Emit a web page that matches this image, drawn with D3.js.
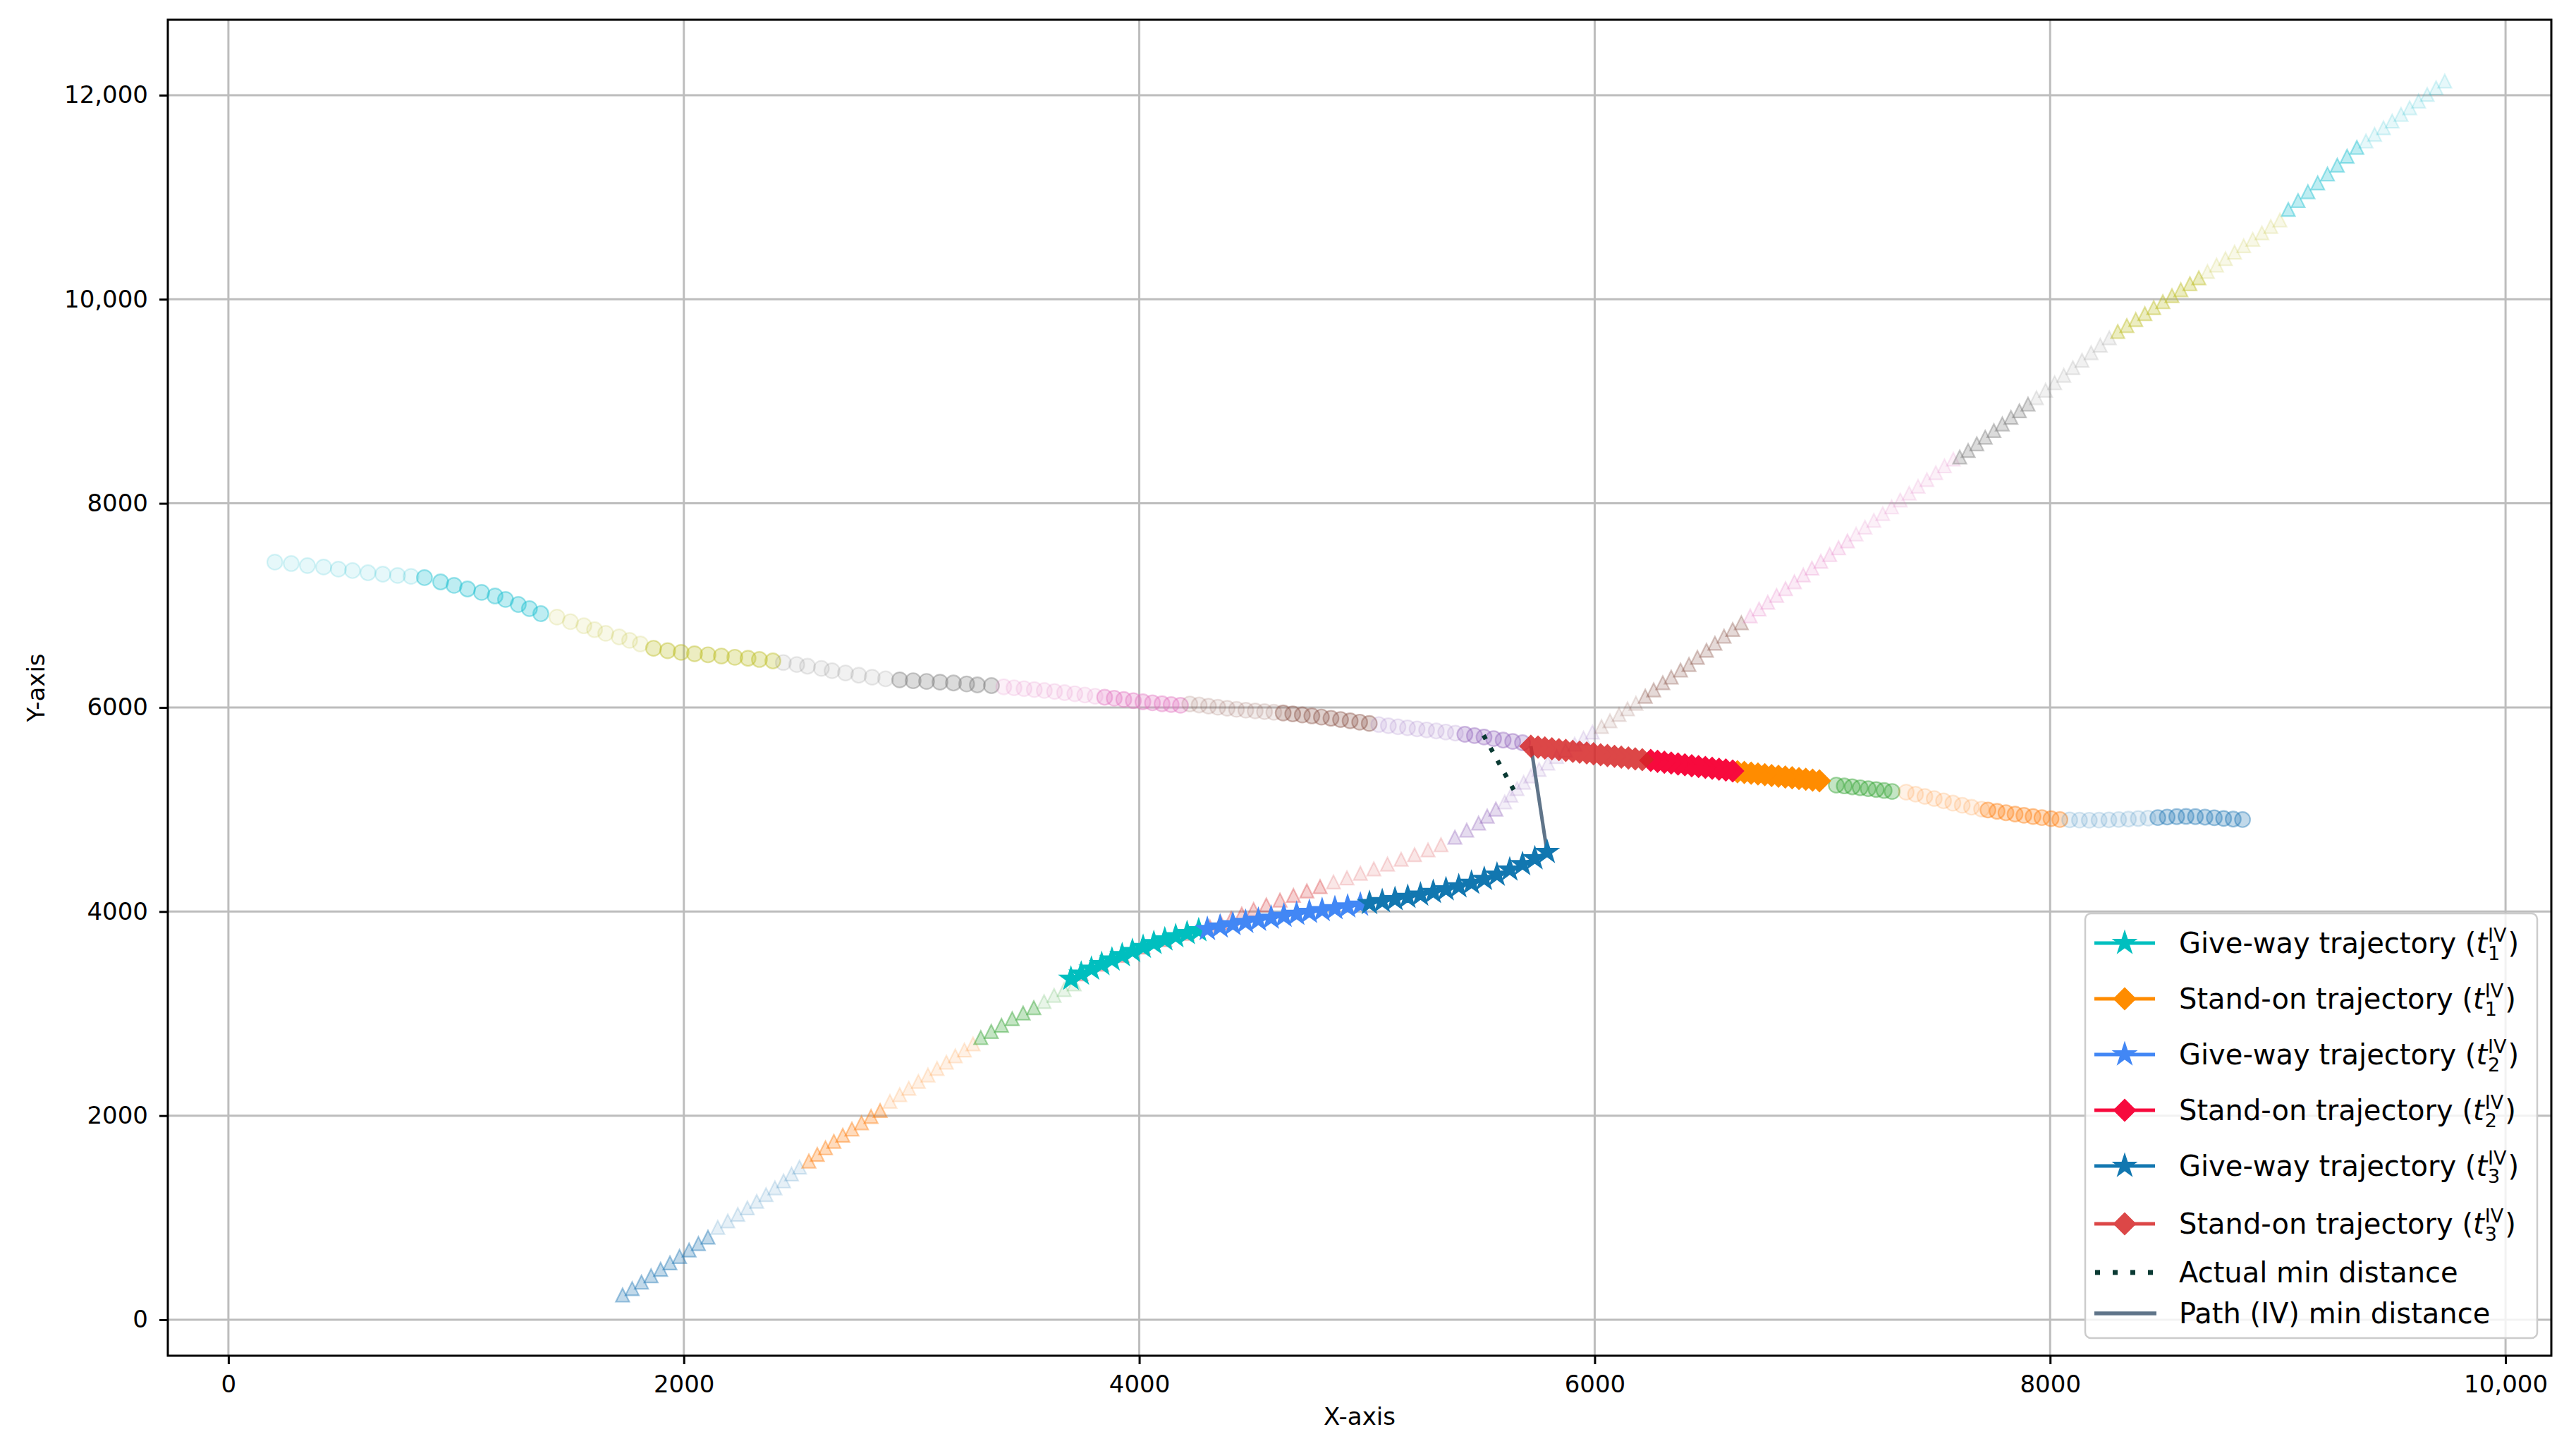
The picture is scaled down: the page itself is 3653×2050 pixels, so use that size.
<!DOCTYPE html>
<html>
<head>
<meta charset="utf-8">
<script src="https://cdn.jsdelivr.net/npm/d3@7"></script>
<style>
  html, body { margin: 0; padding: 0; background: #ffffff; }
  text { font-family: "DejaVu Sans", "Liberation Sans", sans-serif; }
</style>
</head>
<body>
<svg id="chart" width="3653" height="2050"></svg>
<script>
// ---------------- DATA ----------------
const xTickValues = [0, 2000, 4000, 6000, 8000, 10000];
const xTickLabels = ["0", "2000", "4000", "6000", "8000", "10,000"];
const yTickValues = [0, 2000, 4000, 6000, 8000, 10000, 12000];
const yTickLabels = ["0", "2000", "4000", "6000", "8000", "10,000", "12,000"];
const xAxisTitle = "X-axis";
const yAxisTitle = "Y-axis";

// Stand-on ship full path (circles), tab10 colour segments
const soCyanLight = [[204,7424],[276,7410],[347,7390],[418,7376],[483,7355],[545,7341],[613,7320],[678,7306],[743,7293],[802,7284]];
const soCyanDark = [[861,7272],[932,7230],[991,7196],[1050,7161],[1112,7127],[1171,7092],[1217,7058],[1273,7009],[1322,6968],[1372,6919]];
const soOliveLight = [[1443,6885],[1502,6840],[1561,6800],[1608,6762],[1657,6726],[1716,6691],[1762,6657],[1809,6622]];
const soOliveDark = [[1867,6580],[1929,6556],[1988,6540],[2047,6526],[2106,6516],[2165,6504],[2224,6492],[2282,6482],[2332,6470],[2391,6456]];
const soGrayLight = [[2437,6440],[2496,6420],[2543,6404],[2604,6383],[2651,6360],[2710,6338],[2768,6316],[2827,6296],[2886,6280]];
const soGrayDark = [[2948,6270],[3007,6262],[3066,6255],[3125,6248],[3184,6240],[3242,6230],[3289,6221],[3351,6214]];
const soPinkLight = [[3405,6202],[3450,6193],[3494,6184],[3539,6175],[3583,6166],[3628,6156],[3672,6145],[3717,6134],[3761,6122],[3806,6110]];
const soPinkDark = [[3848,6100],[3890,6090],[3932,6078],[3974,6066],[4016,6055],[4058,6045],[4100,6036],[4140,6028],[4181,6021]];
const soBrownLight = [[4222,6034],[4263,6024],[4304,6013],[4345,6002],[4386,5992],[4427,5982],[4468,5973],[4509,5966],[4550,5959],[4591,5953]];
const soBrownDark = [[4632,5946],[4674,5937],[4716,5927],[4758,5917],[4800,5906],[4842,5894],[4884,5882],[4926,5869],[4968,5856],[5010,5843]];
const soPurpleLight = [[5052,5832],[5094,5821],[5136,5810],[5178,5800],[5220,5790],[5262,5780],[5304,5770],[5346,5759],[5388,5748]];
const soPurpleDark = [[5430,5737],[5472,5724],[5514,5710],[5556,5695],[5598,5680],[5640,5667],[5683,5654]];
const soGreen = [[7061,5239],[7096,5231],[7131,5222],[7166,5213],[7201,5204],[7236,5195],[7271,5186],[7306,5177]];
const soOrangeLight = [[7368,5170],[7409,5150],[7450,5128],[7491,5107],[7532,5085],[7573,5063],[7614,5042],[7655,5022],[7699,5004]];
const soOrangeDark = [[7727,4995],[7767,4982],[7806,4968],[7846,4955],[7885,4943],[7925,4931],[7964,4920],[8004,4910],[8043,4901]];
const soBlueLight = [[8086,4898],[8129,4896],[8172,4895],[8215,4896],[8258,4898],[8301,4902],[8344,4906],[8387,4911],[8430,4915]];
const soBlueDark = [[8473,4920],[8514,4926],[8556,4930],[8597,4932],[8638,4930],[8680,4925],[8721,4919],[8762,4912],[8804,4906],[8845,4901]];

// Give-way ship full path (triangles), tab10 colour segments
const gwBlueDark = [[1731,242],[1773,305],[1814,368],[1856,431],[1898,494],[1939,557],[1981,620],[2023,683],[2064,746],[2106,809]];
const gwBlueLight = [[2149,905],[2193,968],[2237,1032],[2279,1096],[2320,1160],[2361,1226],[2400,1292],[2438,1360],[2473,1428],[2508,1495]];
const gwOrangeDark = [[2549,1555],[2586,1620],[2622,1685],[2659,1748],[2698,1808],[2738,1868],[2780,1930],[2822,1992],[2862,2050]];
const gwOrangeLight = [[2905,2140],[2948,2205],[2988,2268],[3030,2335],[3072,2398],[3112,2462],[3153,2523],[3192,2585],[3232,2643],[3270,2703]];
const gwGreenDark = [[3304,2765],[3350,2825],[3395,2885],[3442,2950],[3490,3005],[3537,3058]];
const gwGreenLight = [[3582,3118],[3626,3178],[3670,3235],[3714,3290]];
const gwRedDark = [[3745,3390],[3835,3484],[3925,3571],[4017,3652],[4112,3725],[4210,3787],[4310,3850],[4358,3890],[4404,3932],[4450,3975],[4502,4020],[4558,4065],[4618,4112],[4677,4158],[4736,4202],[4794,4244]];
const gwRedLight = [[4853,4290],[4912,4330],[4971,4375],[5030,4418],[5090,4465],[5150,4512],[5209,4557],[5268,4604],[5325,4655]];
const gwPurpleDark = [[5386,4728],[5438,4797],[5490,4866],[5528,4935],[5566,5004]];
const gwPurpleLight = [[5605,5074],[5632,5140],[5659,5204],[5688,5266],[5720,5329],[5756,5392],[5794,5455],[5833,5518],[5872,5580],[5912,5640],[5951,5700],[5990,5758]];
const gwBrownLight = [[6030,5813],[6067,5869],[6107,5931],[6144,5986],[6181,6041]];
const gwBrownDark = [[6222,6110],[6259,6172],[6299,6242],[6336,6297],[6377,6366],[6414,6421],[6451,6491],[6491,6560],[6528,6629],[6568,6698],[6606,6764],[6644,6830]];
const gwPinkDark = [[6683,6897],[6722,6964],[6760,7031],[6799,7098],[6838,7164],[6877,7231],[6916,7298],[6954,7365],[6993,7432],[7032,7498],[7071,7565],[7110,7632]];
const gwPinkLight = [[7148,7699],[7187,7766],[7226,7833],[7265,7899],[7304,7966],[7342,8033],[7381,8100],[7420,8167],[7459,8233],[7498,8300],[7536,8367],[7575,8433]];
const gwGrayDark = [[7603,8454],[7640,8518],[7678,8583],[7715,8648],[7753,8713],[7790,8778],[7828,8843],[7865,8907],[7903,8972]];
const gwGrayLight = [[7940,9035],[7980,9108],[8020,9182],[8060,9255],[8100,9330],[8140,9402],[8180,9476],[8220,9549],[8260,9622]];
const gwOliveDark = [[8297,9684],[8337,9742],[8376,9801],[8416,9859],[8455,9918],[8495,9976],[8535,10035],[8574,10093],[8614,10152],[8653,10210]];
const gwOliveLight = [[8691,10272],[8731,10335],[8770,10398],[8810,10461],[8850,10524],[8890,10587],[8930,10650],[8969,10713],[9009,10776]];
const gwCyanDark = [[9046,10880],[9089,10967],[9132,11054],[9175,11140],[9218,11227],[9261,11314],[9304,11401],[9347,11488]];
const gwCyanLight = [[9387,11550],[9425,11615],[9464,11680],[9502,11746],[9541,11811],[9579,11876],[9618,11942],[9656,12007],[9695,12072],[9733,12138]];

// Give-way planned trajectories (stars)
const giveWayT1 = [[3700,3340],[3745,3390],[3790,3438],[3835,3484],[3880,3528],[3925,3571],[3970,3612],[4017,3652],[4064,3690],[4112,3725],[4160,3757],[4210,3787],[4261,3815]];
const giveWayT2 = [[4299,3828],[4355,3852],[4411,3875],[4467,3897],[4523,3918],[4579,3938],[4635,3957],[4691,3976],[4747,3995],[4803,4013],[4859,4031],[4915,4048],[4971,4066]];
const giveWayT3 = [[5011,4082],[5067,4100],[5123,4120],[5179,4142],[5235,4165],[5291,4190],[5347,4217],[5403,4246],[5459,4280],[5515,4318],[5571,4360],[5627,4410],[5683,4463],[5737,4520],[5791,4583]];

// Stand-on trajectories (diamonds)
const standOnT1 = [[6987,5281],[6957,5288],[6927,5296],[6897,5303],[6867,5311],[6837,5318],[6807,5326],[6777,5333],[6747,5341],[6717,5348],[6687,5356],[6657,5363],[6627,5370]];
const standOnT2 = [[6606,5378],[6576,5387],[6546,5395],[6516,5404],[6486,5412],[6456,5421],[6426,5429],[6396,5438],[6366,5446],[6336,5455],[6306,5463],[6276,5472],[6246,5481]];
const standOnT3 = [[6209,5488],[6178,5496],[6148,5505],[6117,5513],[6087,5521],[6056,5529],[6026,5537],[5995,5546],[5965,5554],[5934,5562],[5904,5570],[5873,5579],[5843,5587],[5812,5595],[5781,5603],[5751,5612],[5720,5620]];

// Minimum distance segments
const actualMinDistance = [[5512,5728],[5655,5150]];
const pathMinDistance = [[5720,5620],[5791,4583]];

// Legend labels
const legendLabels = [
  {text: "Give-way trajectory (", sub: "1", sup: "IV", tail: ")"},
  {text: "Stand-on trajectory (", sub: "1", sup: "IV", tail: ")"},
  {text: "Give-way trajectory (", sub: "2", sup: "IV", tail: ")"},
  {text: "Stand-on trajectory (", sub: "2", sup: "IV", tail: ")"},
  {text: "Give-way trajectory (", sub: "3", sup: "IV", tail: ")"},
  {text: "Stand-on trajectory (", sub: "3", sup: "IV", tail: ")"},
  {text: "Actual min distance"},
  {text: "Path (IV) min distance"}
];

// ---------------- DRAWING ----------------
const svg = d3.select("#chart");
const P = {l: 238, r: 3618, t: 28, b: 1922};
const x = d3.scaleLinear().domain([-266, 10201]).range([P.l, P.r]);
const y = d3.scaleLinear().domain([-352.5, 12739]).range([P.b, P.t]);

svg.append("rect").attr("width", 3653).attr("height", 2050).attr("fill", "#ffffff");

svg.append("defs").append("clipPath").attr("id", "plotclip")
  .append("rect").attr("x", P.l).attr("y", P.t).attr("width", P.r - P.l).attr("height", P.b - P.t);

// Custom marker shapes (size = radius in px)
const markStar = { draw(ctx, r) {
  const ri = r * 0.381966;
  for (let i = 0; i < 10; i++) {
    const rr = i % 2 === 0 ? r : ri;
    const a = -Math.PI / 2 + i * Math.PI / 5;
    const px = rr * Math.cos(a), py = rr * Math.sin(a);
    if (i === 0) ctx.moveTo(px, py); else ctx.lineTo(px, py);
  }
  ctx.closePath();
}};
const markDiamond = { draw(ctx, r) {
  ctx.moveTo(0, -r); ctx.lineTo(r, 0); ctx.lineTo(0, r); ctx.lineTo(-r, 0); ctx.closePath();
}};
const markTriangle = { draw(ctx, r) {
  ctx.moveTo(0, -r); ctx.lineTo(-r, r); ctx.lineTo(r, r); ctx.closePath();
}};
const markCircle = { draw(ctx, r) {
  ctx.moveTo(r, 0); ctx.arc(0, 0, r, 0, 2 * Math.PI); ctx.closePath();
}};

// Grid
const grid = svg.append("g");
grid.selectAll("line.gx").data(xTickValues).join("line")
  .attr("x1", d => x(d)).attr("x2", d => x(d)).attr("y1", P.t).attr("y2", P.b)
  .attr("stroke", "#bdbdbd").attr("stroke-width", 3);
grid.selectAll("line.gy").data(yTickValues).join("line")
  .attr("y1", d => y(d)).attr("y2", d => y(d)).attr("x1", P.l).attr("x2", P.r)
  .attr("stroke", "#bdbdbd").attr("stroke-width", 3);

const plotG = svg.append("g").attr("clip-path", "url(#plotclip)");

const LIGHT = 0.11, DARK = 0.28;
const tab = {blue:"#1f77b4", orange:"#ff7f0e", green:"#2ca02c", red:"#d62728", purple:"#9467bd",
             brown:"#8c564b", pink:"#e377c2", gray:"#7f7f7f", olive:"#bcbd22", cyan:"#17becf"};

function bgMarkers(pts, color, alpha, shape, r) {
  const sym = d3.symbol().type(shape).size(r);
  plotG.append("g").selectAll("path").data(pts).join("path")
    .attr("d", sym)
    .attr("transform", d => `translate(${x(d[0])},${y(d[1])})`)
    .attr("fill", color).attr("fill-opacity", alpha)
    .attr("stroke", color).attr("stroke-opacity", Math.min(1, alpha * 1.5)).attr("stroke-width", 2.2);
}

// stand-on background (circles)
[
  [soCyanLight, tab.cyan, LIGHT], [soCyanDark, tab.cyan, DARK],
  [soOliveLight, tab.olive, LIGHT], [soOliveDark, tab.olive, DARK],
  [soGrayLight, tab.gray, LIGHT], [soGrayDark, tab.gray, DARK],
  [soPinkLight, tab.pink, LIGHT], [soPinkDark, tab.pink, DARK],
  [soBrownLight, tab.brown, LIGHT], [soBrownDark, tab.brown, DARK],
  [soPurpleLight, tab.purple, LIGHT], [soPurpleDark, tab.purple, DARK],
  [soGreen, tab.green, DARK],
  [soOrangeLight, tab.orange, LIGHT], [soOrangeDark, tab.orange, DARK],
  [soBlueLight, tab.blue, LIGHT], [soBlueDark, tab.blue, DARK]
].forEach(s => bgMarkers(s[0], s[1], s[2], markCircle, 10.8));

// give-way background (triangles)
[
  [gwBlueDark, tab.blue, DARK], [gwBlueLight, tab.blue, LIGHT],
  [gwOrangeDark, tab.orange, DARK], [gwOrangeLight, tab.orange, LIGHT],
  [gwGreenDark, tab.green, DARK], [gwGreenLight, tab.green, LIGHT],
  [gwRedDark, tab.red, DARK * 0.75], [gwRedLight, tab.red, LIGHT],
  [gwPurpleDark, tab.purple, DARK * 0.85], [gwPurpleLight, tab.purple, LIGHT],
  [gwBrownLight, tab.brown, LIGHT], [gwBrownDark, tab.brown, DARK * 0.8],
  [gwPinkDark, tab.pink, LIGHT * 1.4], [gwPinkLight, tab.pink, LIGHT],
  [gwGrayDark, tab.gray, DARK], [gwGrayLight, tab.gray, LIGHT],
  [gwOliveDark, tab.olive, DARK], [gwOliveLight, tab.olive, LIGHT],
  [gwCyanDark, tab.cyan, DARK], [gwCyanLight, tab.cyan, LIGHT]
].forEach(s => bgMarkers(s[0], s[1], s[2], markTriangle, 9.5));

// min-distance segments
const line = d3.line().x(d => x(d[0])).y(d => y(d[1]));
plotG.append("path").attr("d", line(actualMinDistance))
  .attr("fill", "none").attr("stroke", "#0a3a33").attr("stroke-width", 6.5)
  .attr("stroke-dasharray", "6.5 14");
plotG.append("path").attr("d", line(pathMinDistance))
  .attr("fill", "none").attr("stroke", "#5f7489").attr("stroke-width", 5);

// highlighted trajectories
const styles = {
  gw1: {color: "#00bfbf", op: 1, shape: markStar, r: 17},
  so1: {color: "#ff8c00", op: 1, shape: markDiamond, r: 15.5},
  gw2: {color: "#4287f5", op: 1, shape: markStar, r: 17},
  so2: {color: "#f70a3d", op: 1, shape: markDiamond, r: 15.5},
  gw3: {color: "#1277b0", op: 1, shape: markStar, r: 17},
  so3: {color: "#d62728", op: 0.85, shape: markDiamond, r: 15.5}
};
function traj(pts, st) {
  const g = plotG.append("g").attr("opacity", st.op);
  g.append("path").attr("d", line(pts)).attr("fill", "none")
    .attr("stroke", st.color).attr("stroke-width", 4.5);
  g.selectAll("path.m").data(pts).join("path").attr("class", "m")
    .attr("d", d3.symbol().type(st.shape).size(st.r))
    .attr("transform", d => `translate(${x(d[0])},${y(d[1])})`)
    .attr("fill", st.color).attr("stroke", st.color).attr("stroke-width", 1.5);
}
traj(giveWayT1, styles.gw1);
traj(standOnT1, styles.so1);
traj(giveWayT2, styles.gw2);
traj(standOnT2, styles.so2);
traj(giveWayT3, styles.gw3);
traj(standOnT3, styles.so3);

// Axes
const xAxis = d3.axisBottom(x).tickValues(xTickValues)
  .tickFormat((d, i) => xTickLabels[i]).tickSize(12).tickSizeOuter(0).tickPadding(16);
const yAxis = d3.axisLeft(y).tickValues(yTickValues)
  .tickFormat((d, i) => yTickLabels[i]).tickSize(12).tickSizeOuter(0).tickPadding(16);
const gx = svg.append("g").attr("transform", `translate(0,${P.b})`).call(xAxis);
const gy = svg.append("g").attr("transform", `translate(${P.l},0)`).call(yAxis);
[gx, gy].forEach(g => {
  g.select(".domain").remove();
  g.selectAll(".tick line").attr("stroke", "#000").attr("stroke-width", 3);
  g.selectAll(".tick text").attr("font-size", 34).attr("fill", "#000")
    .attr("font-family", "DejaVu Sans");
});

// Frame
svg.append("rect").attr("x", P.l).attr("y", P.t).attr("width", P.r - P.l).attr("height", P.b - P.t)
  .attr("fill", "none").attr("stroke", "#000").attr("stroke-width", 3);

// Axis titles
svg.append("text").attr("x", (P.l + P.r) / 2).attr("y", 2020).attr("text-anchor", "middle")
  .attr("font-size", 34).text(xAxisTitle);
svg.append("text").attr("transform", `translate(63,${(P.t + P.b) / 2}) rotate(-90)`)
  .attr("text-anchor", "middle").attr("font-size", 34).text(yAxisTitle);

// Legend
const lg = svg.append("g");
lg.append("rect").attr("x", 2957).attr("y", 1295).attr("width", 641).attr("height", 602)
  .attr("rx", 8).attr("fill", "#ffffff").attr("fill-opacity", 0.8)
  .attr("stroke", "#cccccc").attr("stroke-width", 2.5);
const rowY = [1337, 1416, 1495, 1574, 1653, 1735, 1804, 1862];
const legendStyles = [styles.gw1, styles.so1, styles.gw2, styles.so2, styles.gw3, styles.so3];
const FS = 40;
legendLabels.forEach((lab, i) => {
  const cy = rowY[i];
  const h = lg.append("g");
  if (i < 6) {
    const st = legendStyles[i];
    const hg = h.append("g").attr("opacity", st.op);
    hg.append("line").attr("x1", 2970).attr("x2", 3056).attr("y1", cy).attr("y2", cy)
      .attr("stroke", st.color).attr("stroke-width", 5);
    hg.append("path").attr("d", d3.symbol().type(st.shape).size(st.r)())
      .attr("transform", `translate(3013,${cy})`).attr("fill", st.color)
      .attr("stroke", st.color).attr("stroke-width", 1.5);
  } else if (i === 6) {
    h.append("line").attr("x1", 2971).attr("x2", 3056).attr("y1", cy).attr("y2", cy)
      .attr("stroke", "#0a3a33").attr("stroke-width", 7).attr("stroke-dasharray", "7 18");
  } else {
    h.append("line").attr("x1", 2970).attr("x2", 3058).attr("y1", cy).attr("y2", cy)
      .attr("stroke", "#5f7489").attr("stroke-width", 5.5);
  }
  const base = cy + 14;
  const t = lg.append("text").attr("x", 3090).attr("y", base).attr("font-size", FS)
    .attr("fill", "#000").text(lab.text);
  if (lab.sub) {
    const w = t.node().getComputedTextLength();
    let cx = 3090 + w;
    const ti = lg.append("text").attr("x", cx).attr("y", base).attr("font-size", FS)
      .attr("font-style", "italic").attr("fill", "#000").text("t");
    cx += ti.node().getComputedTextLength() + 1;
    const sp = lg.append("text").attr("x", cx).attr("y", base - 16).attr("font-size", 27)
      .attr("fill", "#000").text(lab.sup);
    const sb = lg.append("text").attr("x", cx).attr("y", base + 10).attr("font-size", 27)
      .attr("fill", "#000").text(lab.sub);
    cx += Math.max(sp.node().getComputedTextLength(), sb.node().getComputedTextLength()) + 2;
    lg.append("text").attr("x", cx).attr("y", base).attr("font-size", FS)
      .attr("fill", "#000").text(lab.tail);
  }
});
</script>
</body>
</html>
